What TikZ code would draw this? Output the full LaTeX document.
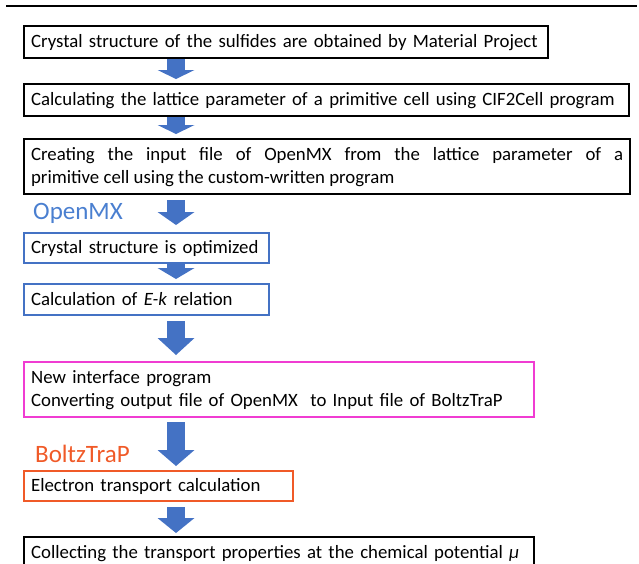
\documentclass[tikz,border=0pt]{standalone}
\usepackage{fontspec}
\setmainfont{Carlito}
\usetikzlibrary{arrows.meta, positioning}
\definecolor{flowblue}{HTML}{4472C4}
\definecolor{mxblue}{HTML}{4A7FD0}
\definecolor{pinkline}{HTML}{F03CD2}
\definecolor{boltzorange}{HTML}{F05A28}
\tikzset{
  stepbox/.style={rectangle, draw=black, line width=2.2pt, fill=white,
                  anchor=north west, inner xsep=7pt, inner ysep=2pt,
                  minimum height=32pt, align=left,
                  font=\fontsize{18.8}{23}\selectfont},
  stepboxBlue/.style={stepbox, draw=flowblue, line width=2pt},
  stepboxPink/.style={stepbox, draw=pinkline, line width=2.4pt},
  stepboxOrange/.style={stepbox, draw=boltzorange, line width=2.2pt},
  toollabel/.style={anchor=base west, inner sep=0pt,
                    font=\fontsize{25}{29}\selectfont},
  flowarrow/.style={draw=flowblue, line width=18pt,
                    -{Triangle[width=37pt, length=#1, line width=0pt]}},
}

\begin{document}
\begin{tikzpicture}[x=1pt, y=-1pt]
  \useasboundingbox (0,0) rectangle (639,563);
  \clip (0,0) rectangle (639,563);

  % rule above the chart
  \draw[line width=2.5pt] (6,6) -- (637,6);

  \coordinate (ax) at (176,0);

  \node[stepbox, text width=510pt] (b1) at (23,25)
    {Crystal structure of the sulfides are obtained by Material Project};
  \node[stepbox, text width=591pt] (b2) at (23,83)
    {Calculating the lattice parameter of a primitive cell using CIF2Cell program};
  \node[stepbox, text width=592pt, align=justify, minimum height=55pt] (b3) at (23,138)
    {Creating the input file of OpenMX from the lattice parameter of a\linebreak
     primitive cell using the custom-written program};

  \node[toollabel, text=mxblue] (openmx) at (33,219) {OpenMX};
  \node[stepboxBlue, text width=231pt, minimum height=30pt] (b4) at (23,232)
    {Crystal structure is optimized};
  \node[stepboxBlue, text width=231pt, minimum height=31pt] (b5) at (23,283)
    {Calculation of \textit{E-k} relation};

  \node[stepboxPink, text width=496pt, minimum height=55pt] (b6) at (23,361)
    {New interface program\\
     Converting output file of OpenMX\ \ to Input file of BoltzTraP};

  \node[toollabel, text=boltzorange] (boltz) at (35,462) {BoltzTraP};
  \node[stepboxOrange, text width=255pt, minimum height=30pt] (b7) at (23,470)
    {Electron transport calculation};

  \node[stepbox, text width=496pt] (b8) at (23,536)
    {Collecting the transport properties at the chemical potential \textit{μ}};

  % block arrows between the steps
  \draw[flowarrow=9pt, shorten >=4pt] (b1.south -| ax) -- (b2.north -| ax);
  \draw[flowarrow=9pt, shorten >=4pt] (b2.south -| ax) -- (b3.north -| ax);
  \draw[flowarrow=13pt, shorten <=5pt, shorten >=7pt] (b3.south -| ax) -- (b4.north -| ax);
  \draw[flowarrow=11pt, shorten >=4pt] (b4.south -| ax) -- (b5.north -| ax);
  \draw[flowarrow=17pt, shorten <=5pt, shorten >=6pt] (b5.south -| ax) -- (b6.north -| ax);
  \draw[flowarrow=16pt, shorten <=4pt, shorten >=4pt] (b6.south -| ax) -- (b7.north -| ax);
  \draw[flowarrow=15pt, shorten <=5pt, shorten >=3pt] (b7.south -| ax) -- (b8.north -| ax);

\end{tikzpicture}
\end{document}
